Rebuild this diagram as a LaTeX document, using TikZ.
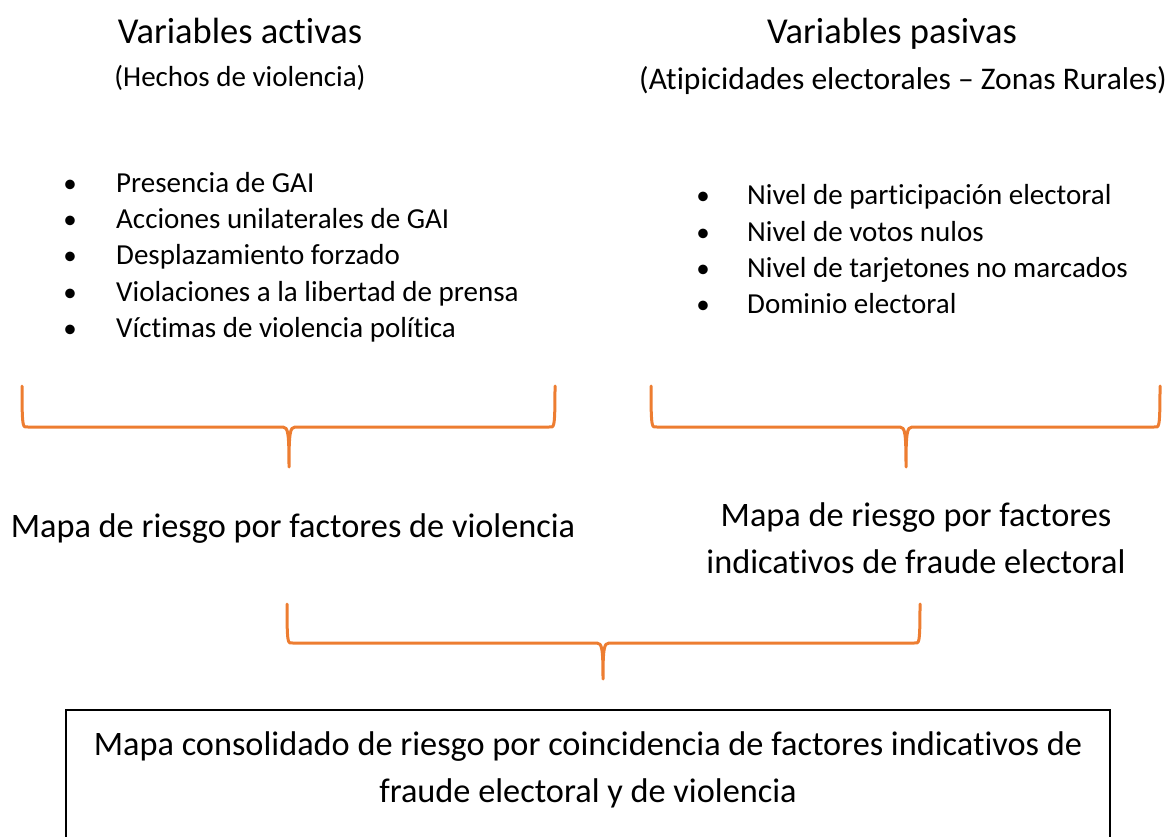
\documentclass[tikz,border=0pt]{standalone}
\usepackage{fontspec}
\setmainfont[RawFeature={-liga;-clig;-dlig}]{Carlito}
\definecolor{brorange}{RGB}{237,125,49}
\newcommand{\fs}[1]{\fontsize{#1}{#1}\selectfont}
\begin{document}
\begin{tikzpicture}[x=1pt,y=-1pt,
  txt/.style={inner sep=0pt,anchor=base},
  bul/.style={inner sep=0pt,font=\fs{29},anchor=base west},
  dot/.style={inner sep=0pt,font=\fs{27},anchor=base},
  bracepath/.style={draw=brorange,line width=3pt,line cap=round,line join=round}]
\useasboundingbox (0,0) rectangle (1170,837);
% titles
\node[txt,font=\fs{36.5}] (ta) at (240,44) {Variables activas};
\node[txt,font=\fs{29}] (sa) at (240,87) {(Hechos de violencia)};
\node[txt,font=\fs{36.5}] (tp) at (892,44) {Variables pasivas};
\node[txt,font=\fs{31.5}] (sp) at (903,90) {(Atipicidades electorales – Zonas Rurales)};
% left bullets
\foreach \t [count=\i from 0] in {Presencia de GAI,Acciones unilaterales de GAI,Desplazamiento forzado,Violaciones a la libertad de prensa,Víctimas de violencia política}{
  \node[dot] (lb\i) at (70,193+36*\i) {•};
  \node[bul] (lt\i) at (116,193+36*\i) {\t};
}
% right bullets
\foreach \t [count=\i from 0] in {Nivel de participación electoral,Nivel de votos nulos,Nivel de tarjetones no marcados,Dominio electoral}{
  \node[dot] (rb\i) at (703,205+36*\i) {•};
  \node[bul] (rt\i) at (747,205+36*\i) {\t};
}
% braces
\coordinate (b1l) at (22,386); \coordinate (b1r) at (555,386); \coordinate (b1t) at (289,467);
\coordinate (b2l) at (651,386); \coordinate (b2r) at (1160,386); \coordinate (b2t) at (906,467);
\coordinate (b3l) at (287,604); \coordinate (b3r) at (920,604); \coordinate (b3t) at (603,679);
\foreach \l/\r/\m/\h in {b1l/b1r/b1t/427,b2l/b2r/b2t/427,b3l/b3r/b3t/643}{
  \path[bracepath] (\l) .. controls ([yshift=-4]\l |- 0,\h) and ([xshift=1]\l |- 0,\h) .. ([xshift=6]\l |- 0,\h)
    -- ([xshift=-6]\m |- 0,\h) .. controls ([xshift=-1]\m |- 0,\h) and ([yshift=-6]\m |- 0,\h) .. (\m)
    .. controls ([yshift=-6]\m |- 0,\h) and ([xshift=1]\m |- 0,\h) .. ([xshift=6]\m |- 0,\h)
    -- ([xshift=-6]\r |- 0,\h) .. controls ([xshift=-1]\r |- 0,\h) and ([yshift=-4]\r |- 0,\h) .. (\r);
}
% maps
\node[txt,font=\fs{34.3}] (mv) at (293,537) {Mapa de riesgo por factores de violencia};
\node[txt,font=\fs{34.3}] (mf1) at (916,526) {Mapa de riesgo por factores};
\node[txt,font=\fs{34.3}] (mf2) at (916,573) {indicativos de fraude electoral};
% box
\begin{scope}
\clip (0,0) rectangle (1170,837);
\draw[line width=1.5pt] (66,900) -- (66,710) -- (1110,710) -- (1110,900);
\end{scope}
\node[txt,font=\fs{34.3}] (mc1) at (588,755) {Mapa consolidado de riesgo por coincidencia de factores indicativos de};
\node[txt,font=\fs{34.3}] (mc2) at (588,802) {fraude electoral y de violencia};
\end{tikzpicture}
\end{document}
